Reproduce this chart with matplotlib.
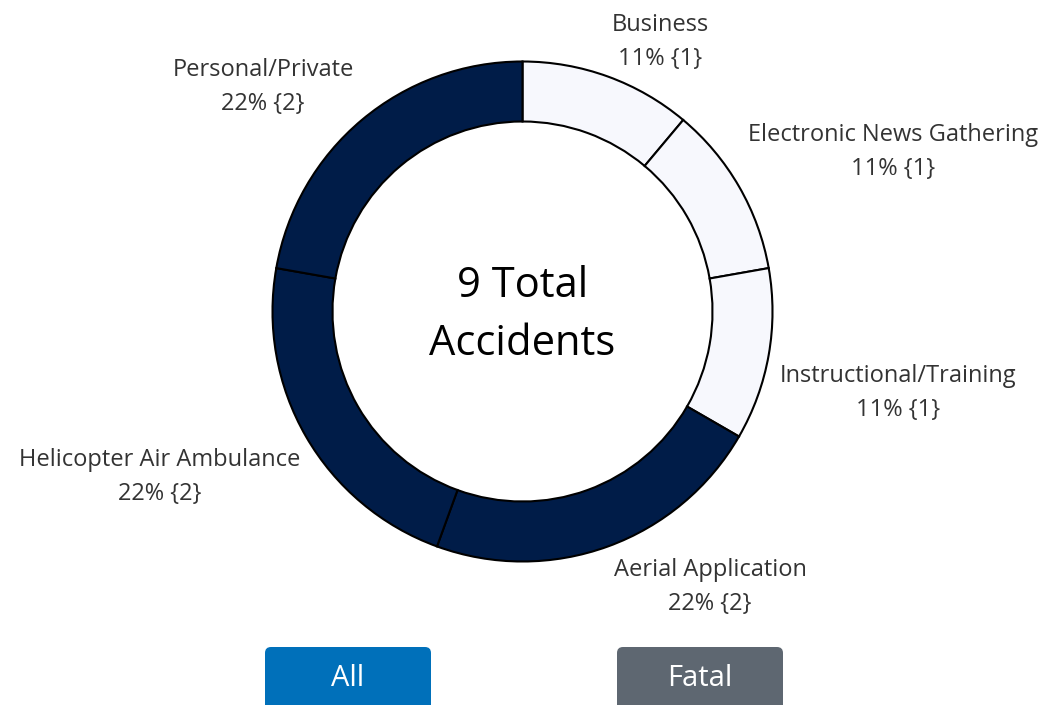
import matplotlib.pyplot as plt
from matplotlib.patches import FancyBboxPatch

categories = ['Business', 'Electronic News Gathering', 'Instructional/Training',
              'Aerial Application', 'Helicopter Air Ambulance', 'Personal/Private']
counts = [1, 1, 1, 2, 2, 2]
total = sum(counts)

light = '#F7F8FD'
dark = '#001C48'
colors = [light if c == 1 else dark for c in counts]

# label positions in pixels (x, y from top)
label_pos = [(660, 42), (893, 152), (898, 393), (710, 587), (160, 477), (263, 87)]

W, H = 1046, 705
fig = plt.figure(figsize=(W / 100, H / 100), dpi=100)
ax = fig.add_axes([0, 0, 1, 1])

cx, cy, r = 522.5, H - 311.5, 250
ax.pie(counts, colors=colors, startangle=90, counterclock=False,
       center=(cx, cy), radius=r, frame=True,
       wedgeprops=dict(width=60, edgecolor='black', linewidth=1.5))
ax.set_xlim(0, W)
ax.set_ylim(0, H)
ax.set_aspect('equal')
ax.axis('off')

font = 'Open Sans'
for cat, n, (x, y) in zip(categories, counts, label_pos):
    ax.text(x, H - y, f'{cat}\n{round(100 * n / total)}% {{{n}}}', ha='center', va='center',
            fontsize=17, family=font, color='#333333', linespacing=1.55)

ax.text(cx, H - 315, f'{total} Total\nAccidents', ha='center', va='center',
        fontsize=30, family=font, color='black', linespacing=1.5)

buttons = [('All', 265, '#0070BA'), ('Fatal', 617, '#5E6771')]
for txt, x0, col in buttons:
    ax.add_patch(FancyBboxPatch((x0 + 4, -20), 166 - 8, H - 647 + 20 - 4,
                                boxstyle='round,pad=4,rounding_size=6',
                                facecolor=col, edgecolor='none'))
    ax.text(x0 + 83, H - 678, txt, ha='center', va='center', fontsize=21,
            family=font, color='white')

fig.savefig('out.png', dpi=100)
